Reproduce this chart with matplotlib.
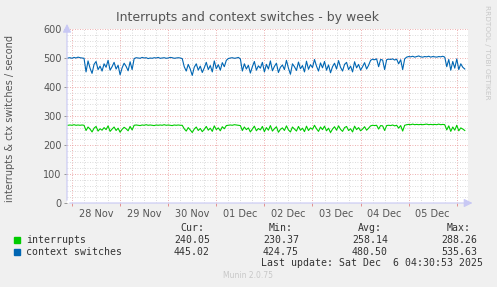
import matplotlib.pyplot as plt
import numpy as np

# munin weekly graph: one sample per hour, hours counted from 28 Nov 00:00
start_hour = -2
day_labels = ['28 Nov', '29 Nov', '30 Nov', '01 Dec', '02 Dec', '03 Dec', '04 Dec', '05 Dec']

ctx_switches = [
    500, 501, 499, 502, 500, 503, 501, 500, 499,
    452, 490, 465, 447, 478, 488, 460, 472, 455, 480, 468, 492, 458, 470, 485, 462, 475, 442, 466, 482, 471, 456, 487, 460,
    498, 501, 500, 499, 502, 500, 501, 498, 500, 499, 501, 500, 502, 499, 500, 501, 499, 500, 502, 501, 499, 500, 501, 500, 498,
    470, 455, 478, 462, 440, 468, 480, 458, 472, 450, 466, 485, 460, 474, 452, 490, 463, 477, 458, 484, 470, 492,
    498, 500, 501, 499, 500, 502, 497,
    455, 480, 462, 475, 448, 470, 488, 458, 473, 465, 485, 452, 478, 462, 490, 456,
    471, 482, 450, 468, 476, 460, 492, 465, 444, 480, 470, 457, 486, 463, 474, 452,
    489, 461, 477, 467, 495, 472, 455, 483, 466, 488, 458, 476, 449, 470, 482, 462,
    491, 468, 455, 478, 485, 460, 472, 452, 487, 466, 478, 458, 470, 484, 462, 475,
    492, 496, 494, 497, 470, 495, 493, 460, 494, 496, 495, 497, 493, 496, 480, 494, 460, 497,
    503, 505, 504, 506, 503, 505, 507, 504, 503, 505, 504, 506, 503, 505, 504, 503, 505, 504, 506, 503,
    470, 495, 458, 488, 465, 497, 460, 480, 468, 462,
]

interrupts = [
    268, 269, 268, 270, 268, 269, 268, 269, 268,
    250, 262, 255, 245, 258, 264, 248, 256, 251, 260, 253, 266, 247, 255, 262, 250, 258, 244, 254, 261, 256, 249, 264, 252,
    268, 269, 268, 267, 269, 268, 270, 268, 269, 268, 267, 269, 268, 269, 268, 270, 268, 269, 268, 267, 269, 268, 269, 268, 268,
    256, 248, 260, 252, 243, 255, 262, 250, 257, 246, 254, 264, 251, 258, 247, 266, 253, 259, 249, 263, 256, 267,
    268, 269, 268, 270, 269, 268, 267,
    250, 262, 253, 259, 245, 255, 265, 249, 257, 252, 264, 246, 260, 251, 267, 248,
    256, 263, 244, 254, 259, 250, 266, 252, 245, 262, 255, 248, 264, 251, 258, 246,
    265, 250, 259, 254, 268, 256, 247, 262, 253, 265, 249, 258, 243, 255, 263, 251,
    266, 254, 247, 260, 264, 250, 256, 245, 265, 253, 260, 249, 255, 263, 251, 258,
    266, 268, 267, 268, 255, 267, 266, 250, 267, 268, 267, 269, 266, 268, 258, 267, 248, 268,
    270, 271, 270, 272, 270, 271, 270, 271, 270, 271, 272, 270, 271, 270, 271, 270, 272, 270, 271, 270,
    252, 266, 247, 262, 251, 268, 249, 259, 255, 250,
]

stats = {
    'interrupts': ['240.05', '230.37', '258.14', '288.26'],
    'context switches': ['445.02', '424.75', '480.50', '535.63'],
}
colors = {'interrupts': '#00cc00', 'context switches': '#0066b3'}

W, H = 497, 287
fig = plt.figure(figsize=(W / 100, H / 100), dpi=100, facecolor='#f0f0f0')
ax = fig.add_axes([67 / W, 1 - 203 / H, 401 / W, 174 / H])
ax.set_facecolor('white')

xmin, xmax = -2.5, 197.6
ax.set_xlim(xmin, xmax)
ax.set_ylim(0, 600)

# grid
for h in np.arange(-6, 200, 6):
    if xmin < h < xmax and h % 24 != 0:
        ax.axvline(h, color='#cfcfcf', lw=0.6, ls=(0, (1, 2)), zorder=0)
for h in np.arange(0, 200, 24):
    ax.axvline(h, color='#e89494', lw=0.6, ls=(0, (1, 2)), zorder=0)
for v in range(20, 600, 20):
    if v % 100:
        ax.axhline(v, color='#cfcfcf', lw=0.6, ls=(0, (1, 2)), zorder=0)
for v in range(100, 601, 100):
    ax.axhline(v, color='#e89494', lw=0.6, ls=(0, (1, 2)), zorder=0)

t_int = start_hour + np.arange(len(interrupts))
t_ctx = start_hour + np.arange(len(ctx_switches))
ax.plot(t_int, interrupts, color=colors['interrupts'], lw=0.8, zorder=3)
ax.plot(t_ctx, ctx_switches, color=colors['context switches'], lw=0.8, zorder=3)

for s in ax.spines.values():
    s.set_visible(False)
ax.annotate('', xy=(0, 1.045), xytext=(0, 0), xycoords='axes fraction',
            arrowprops=dict(arrowstyle='-|>,head_length=0.5,head_width=0.25', color='#c8c8f4', lw=0.8))
ax.annotate('', xy=(1.018, 0), xytext=(0, 0), xycoords='axes fraction',
            arrowprops=dict(arrowstyle='-|>,head_length=0.5,head_width=0.25', color='#c8c8f4', lw=0.8))

ax.set_yticks(range(0, 601, 100))
ax.tick_params(axis='y', length=2, width=0.6, color='#888888', labelsize=7, labelcolor='#555555', pad=2)
ax.set_xticks(np.arange(12, 200, 24)[:len(day_labels)], day_labels)
ax.tick_params(axis='x', length=0, labelsize=7, labelcolor='#555555', pad=4)
ax.set_xticks(np.arange(0, 200, 24), minor=True)
ax.tick_params(axis='x', which='minor', length=2, width=0.6, color='#e08080')

fig.text(248 / W, 1 - 17 / H, 'Interrupts and context switches - by week',
         ha='center', va='center', fontsize=9, color='#555555')
fig.text(10 / W, 1 - 118 / H, 'interrupts & ctx switches / second', rotation=90,
         ha='center', va='center', fontsize=7, color='#555555')
fig.text(487 / W, 1 - 52 / H, 'RRDTOOL / TOBI OETIKER', rotation=270,
         ha='center', va='center', fontsize=5.3, color='#c8c8c8')

mono = dict(family='DejaVu Sans Mono', fontsize=7.1, color='#333333', va='center')
col_right = [210, 299, 388, 477]
for x, head in zip(col_right, ['Cur:', 'Min:', 'Avg:', 'Max:']):
    fig.text((x - 6) / W, 1 - 228 / H, head, ha='right', **mono)
for i, name in enumerate(['interrupts', 'context switches']):
    y = 240 + 12 * i
    fig.patches.append(plt.Rectangle((14 / W, 1 - (y + 3) / H), 6 / W, 6 / H,
                                     transform=fig.transFigure, color=colors[name]))
    fig.text(26 / W, 1 - y / H, name, ha='left', **mono)
    for x, val in zip(col_right, stats[name]):
        fig.text(x / W, 1 - y / H, val, ha='right', **mono)
fig.text(483 / W, 1 - 263 / H, 'Last update: Sat Dec  6 04:30:53 2025', ha='right', **mono)
fig.text(248 / W, 1 - 276 / H, 'Munin 2.0.75', ha='center', va='center', fontsize=5.5, color='#c8c8c8')

fig.savefig('out.png', dpi=100, facecolor=fig.get_facecolor())
